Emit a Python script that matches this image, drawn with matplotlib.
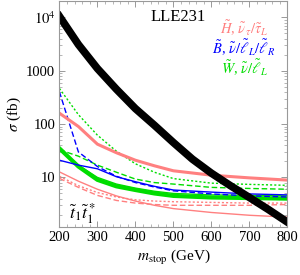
import matplotlib
matplotlib.use("Agg")
import matplotlib.pyplot as plt
from matplotlib.ticker import FixedLocator, MultipleLocator, LogLocator, NullFormatter
import numpy as np

plt.rcParams['font.family'] = ['Liberation Serif', 'DejaVu Serif']
plt.rcParams['mathtext.fontset'] = 'stix'

m = [200, 250, 300, 350, 400, 450, 500, 600, 700, 800]

# stop pair cross section
m_stop = [200, 250, 300, 350, 400, 450, 500, 550, 600, 650, 700, 750, 800]
xs_stop = [10500, 3100, 1100, 450, 195, 95, 45, 22, 12, 7.0, 4.2, 2.5, 1.45]

# Higgsino (pink)
h_thick = [160, 90, 42, 29, 21, 16.5, 13.3, 11, 9.8, 8.9]
h_solid = [12.7, 8.5, 6.0, 4.5, 3.6, 3.0, 2.6, 2.2, 1.95, 1.8]
h_dash = [9.6, 6.5, 4.6, 3.7, 3.3, 3.1, 3.0, 3.0, 3.0, 3.1]
h_dot = [10.5, 7.0, 5.2, 4.3, 3.8, 3.6, 3.5, 3.4, 3.3, 3.3]

# Bino (blue)
b_solid = [21, 17, 14.5, 10.3, 8.3, 6.8, 5.8, 5.3, 4.9, 4.7]
b_dash = [403, 30, 16, 10.5, 8.0, 6.6, 5.6, 4.9, 4.5, 4.3]

# Wino (green)
w_thick = [35, 16, 9, 6.8, 5.8, 5.0, 4.5, 4.2, 4.1, 4.0]
w_solid = [33, 17, 10, 7.5, 6.3, 5.5, 5.0, 4.7, 4.6, 4.5]
w_dash = [33, 25, 17, 12.5, 9.3, 8.0, 7.5, 6.5, 6.2, 6.0]
w_dot = [466, 150, 62, 31, 18, 12.5, 9.5, 7.8, 7.4, 7.1]

pink = '#FF8080'
blue = '#0000FF'
green = '#00DD00'

fig = plt.figure(figsize=(3.0, 2.75), dpi=100)
ax = fig.add_axes([0.198, 0.1756, 0.76, 0.8204])

ax.plot(m, h_solid, color=pink, lw=1.0)
ax.plot(m, h_dash, color=pink, lw=1.0, ls=(0, (4, 2)))
ax.plot(m, h_dot, color=pink, lw=1.0, ls=(0, (1.5, 1.5)))
ax.plot(m, w_solid, color=green, lw=1.0)
ax.plot(m, w_thick, color=green, lw=3.0)
ax.plot(m, w_dash, color=green, lw=1.0, ls=(0, (4, 2)))
ax.plot(m, w_dot, color=green, lw=1.0, ls=(0, (1.5, 1.5)))
ax.plot(m, b_solid, color=blue, lw=1.0)
ax.plot(m, b_dash, color=blue, lw=1.0, ls=(0, (4, 2)))
ax.plot(m, h_thick, color=pink, lw=2.2)
ax.plot(m_stop, xs_stop, color='black', lw=5.5)

ax.set_yscale('log')
ax.set_xlim(200, 800)
ax.set_ylim(1.19, 2.02e4)

ax.xaxis.set_major_locator(FixedLocator([200, 300, 400, 500, 600, 700, 800]))
ax.xaxis.set_minor_locator(MultipleLocator(20))
ax.yaxis.set_major_locator(FixedLocator([10, 100, 1000, 10000]))
ax.yaxis.set_minor_locator(LogLocator(base=10, subs=np.arange(2, 10), numticks=20))
ax.yaxis.set_minor_formatter(NullFormatter())
ax.set_yticklabels(['10', '100', '1000', r'$10^4$'])

for s in ax.spines.values():
    s.set_color('#999999')
    s.set_linewidth(0.8)
ax.tick_params(which='both', direction='in', top=True, right=True, color='#999999',
               labelsize=10.5, pad=3)
ax.tick_params(which='major', length=4, width=0.7)
ax.tick_params(which='minor', length=2, width=0.5)

ax.set_xlabel(r'$m_{\mathrm{stop}}$ (GeV)', fontsize=11, labelpad=3)
ax.set_ylabel(r'$\sigma$ (fb)', fontsize=11, labelpad=2)

ax.text(0.52, 0.93, 'LLE231', transform=ax.transAxes, fontsize=12, ha='center', va='center')
ax.text(0.81, 0.88, r'$\tilde{H}$, $\tilde{\nu}_\tau/\tilde{\tau}_L$', transform=ax.transAxes,
        fontsize=10.5, ha='center', va='center', color=pink)
ax.text(0.81, 0.795, r'$\tilde{B}$, $\tilde{\nu}/\tilde{\ell}_L/\tilde{\ell}_R$', transform=ax.transAxes,
        fontsize=10.5, ha='center', va='center', color=blue)
ax.text(0.81, 0.705, r'$\tilde{W}$, $\tilde{\nu}/\tilde{\ell}_L$', transform=ax.transAxes,
        fontsize=10.5, ha='center', va='center', color=green)
ax.text(0.1, 0.06, r'$\tilde{t}_1\tilde{t}_1^*$', transform=ax.transAxes,
        fontsize=13, ha='center', va='center')

fig.savefig('out.png', dpi=100)
